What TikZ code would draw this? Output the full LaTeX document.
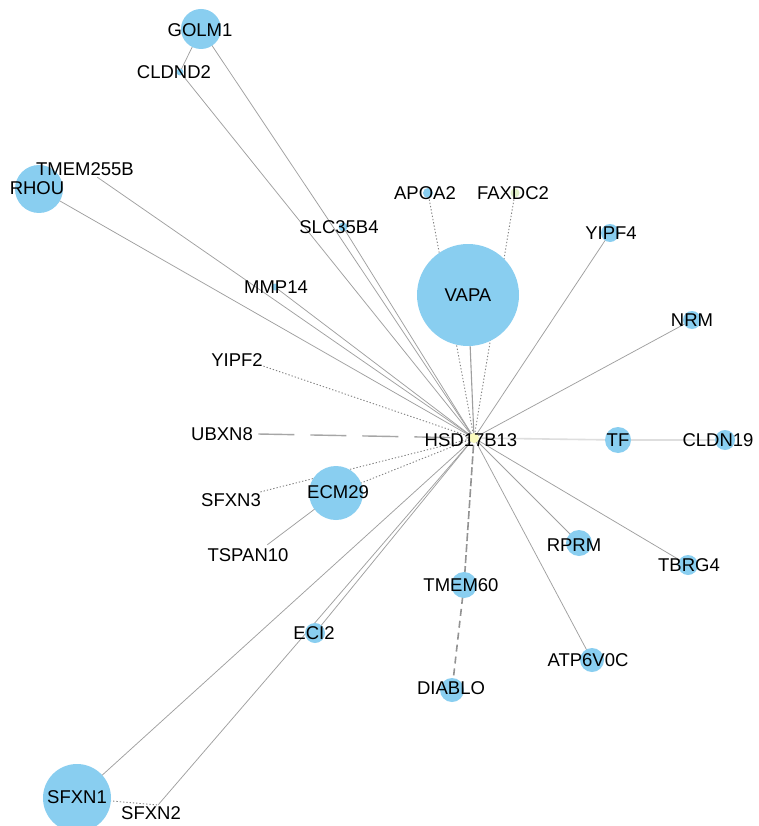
\documentclass[tikz,border=0pt]{standalone}
\usepackage{fontspec}
\setmainfont{Liberation Sans}
\definecolor{nodeblue}{RGB}{137,206,240}
\definecolor{hubyellow}{RGB}{250,250,190}
\definecolor{faxyellow}{RGB}{225,240,200}
\definecolor{edgegray}{RGB}{160,160,160}
\definecolor{dotgray}{RGB}{130,130,130}
\definecolor{lightedge}{RGB}{222,222,222}
\pgfdeclarelayer{bg}
\pgfdeclarelayer{edges}
\pgfsetlayers{bg,edges,main}
\begin{document}
\begin{tikzpicture}[x=1pt,y=-1pt,
  gnode/.style={circle,fill=nodeblue,draw=none,inner sep=0pt,minimum size=#1},
  pnode/.style={circle,inner sep=0pt,minimum size=0.5pt},
  lbl/.style={font=\fontsize{18.5}{18.5}\selectfont,inner sep=0pt,text=black},
  sol/.style={draw=edgegray,line width=0.75pt},
  dotl/.style={draw=dotgray,line width=0.9pt,dash pattern=on 1.3pt off 2pt},
  longdash/.style={draw=gray!70,line width=1.4pt,dash pattern=on 36pt off 16pt},
  meddash/.style={draw=gray!85,line width=1.6pt,dash pattern=on 8pt off 3pt},
  lightl/.style={draw=lightedge,line width=1.6pt}
]
\useasboundingbox (0,0) rectangle (758,826);
\begin{pgfonlayer}{bg}
\fill[white] (0,0) rectangle (758,826);
\end{pgfonlayer}

% ---- node dots / circles ----
\node[gnode=102pt] (vapa) at (468,295) {};
\node[gnode=40pt] (golm1) at (201,29) {};
\node[gnode=48pt] (rhou) at (39,189) {};
\node[gnode=54pt] (ecm29) at (336,493) {};
\node[gnode=68pt] (sfxn1) at (77,798) {};
\node[gnode=26pt] (tf) at (618,440) {};
\node[gnode=26pt] (rprm) at (579,543) {};
\node[gnode=26pt] (tmem60) at (464,585) {};
\node[gnode=24pt] (diablo) at (452,690) {};
\node[gnode=24pt] (atp) at (592,660) {};
\node[gnode=20pt] (tbrg4) at (688,565) {};
\node[gnode=20pt] (cldn19) at (725,440) {};
\node[gnode=18pt] (nrm) at (692,320) {};
\node[gnode=18pt] (yipf4) at (610,233) {};
\node[gnode=20pt] (eci2) at (315,633) {};
\node[gnode=10pt] (apoa2) at (428,193) {};
\node[circle,fill=faxyellow,inner sep=0pt,minimum size=9pt] (faxdc2) at (515,193) {};
\node[gnode=9pt] (slc35b4) at (343,227) {};
\node[gnode=7pt] (mmp14) at (275,287) {};
\node[gnode=7pt] (cldnd2) at (180,72) {};
\node[circle,fill=hubyellow,inner sep=0pt,minimum size=10pt] (hub) at (474,438) {};
\node[pnode] (tmem255b) at (97,177) {};
\node[pnode] (yipf2) at (263,366) {};
\node[pnode] (ubxn8) at (258,434) {};
\node[pnode] (sfxn3) at (260,492) {};
\node[pnode] (tspan10) at (267,545) {};
\node[pnode] (sfxn2) at (158,805) {};

% ---- labels ----
\node[lbl] (l-vapa) at (468,295) {VAPA};
\node[lbl] (l-golm1) at (200,30) {GOLM1};
\node[lbl] (l-cldnd2) at (174,72) {CLDND2};
\node[lbl] (l-tmem255b) at (85,169) {TMEM255B};
\node[lbl] (l-rhou) at (37,188) {RHOU};
\node[lbl] (l-slc35b4) at (339,227) {SLC35B4};
\node[lbl] (l-mmp14) at (276,287) {MMP14};
\node[lbl] (l-apoa2) at (425,193) {APOA2};
\node[lbl] (l-faxdc2) at (513,193) {FAXDC2};
\node[lbl] (l-yipf4) at (611,233) {YIPF4};
\node[lbl] (l-nrm) at (692,320) {NRM};
\node[lbl] (l-yipf2) at (237,360) {YIPF2};
\node[lbl] (l-ubxn8) at (222,434) {UBXN8};
\node[lbl] (l-hub) at (471,440) {HSD17B13};
\node[lbl] (l-tf) at (618,440) {TF};
\node[lbl] (l-cldn19) at (718,440) {CLDN19};
\node[lbl] (l-ecm29) at (338,492) {ECM29};
\node[lbl] (l-sfxn3) at (231,500) {SFXN3};
\node[lbl] (l-tspan10) at (248,555) {TSPAN10};
\node[lbl] (l-rprm) at (574,545) {RPRM};
\node[lbl] (l-tbrg4) at (689,565) {TBRG4};
\node[lbl] (l-tmem60) at (461,585) {TMEM60};
\node[lbl] (l-eci2) at (314,633) {ECI2};
\node[lbl] (l-atp) at (588,660) {ATP6V0C};
\node[lbl] (l-diablo) at (451,688) {DIABLO};
\node[lbl] (l-sfxn1) at (77,797) {SFXN1};
\node[lbl] (l-sfxn2) at (151,813) {SFXN2};

% ---- edges ----
\begin{pgfonlayer}{edges}
\draw[sol] (golm1.center) -- (hub.center);
\draw[sol] (golm1.center) -- (cldnd2.center);
\draw[sol] (cldnd2.center) -- (hub.center);
\draw[sol] (rhou.center) -- (hub.center);
\draw[sol] (tmem255b) -- (hub.center);
\draw[sol] (mmp14.center) -- (hub.center);
\draw[sol] (slc35b4.center) -- (hub.center);
\draw[dotl] (yipf2) -- (hub.center);
\draw[longdash] (ubxn8) -- (hub.center);
\draw[dotl] (apoa2.center) -- (hub.center);
\draw[dotl] (faxdc2.center) -- (hub.center);
\draw[draw=gray!75,line width=1.1pt] (vapa.center) -- (hub.center);
\draw[sol] (yipf4.center) -- (hub.center);
\draw[sol] (nrm.center) -- (hub.center);
\draw[lightl] (tf.center) -- (hub.center);
\draw[lightl,line width=1.2pt] (tf.center) -- (cldn19.center);
\draw[sol] (tbrg4.center) -- (hub.center);
\draw[sol] (rprm.center) -- (hub.center);
\draw[sol] (atp.center) -- (hub.center);
\draw[meddash] (tmem60.center) -- (hub.center);
\draw[meddash,dash pattern=on 7pt off 5pt] (tmem60.center) -- (diablo.center);
\draw[sol] (eci2.center) -- (hub.center);
\draw[sol] (sfxn2) -- (hub.center);
\draw[sol] (sfxn1.center) -- (hub.center);
\draw[dotl] (sfxn1.center) -- (sfxn2);
\draw[dotl] (ecm29.center) -- (hub.center);
\draw[dotl] (sfxn3) -- (hub.center);
\draw[sol] (tspan10) -- (ecm29.center);
\end{pgfonlayer}
\end{tikzpicture}
\end{document}
